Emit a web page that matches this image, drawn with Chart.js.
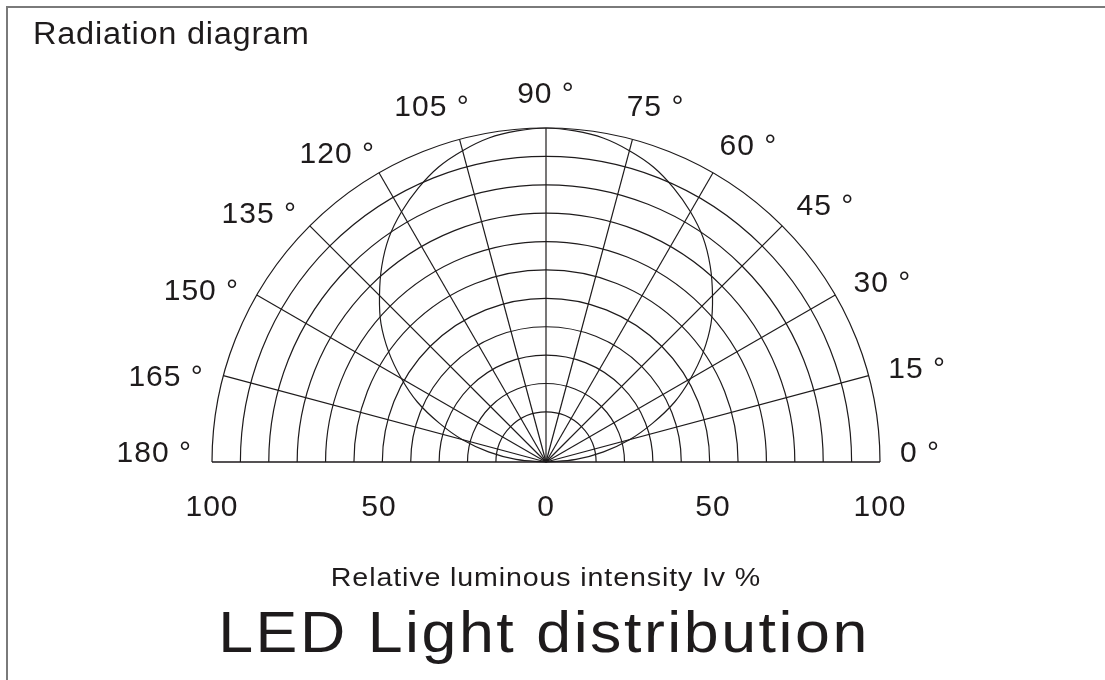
<!DOCTYPE html>
<html>
<head>
<meta charset="utf-8">
<title>Radiation diagram</title>
<script src="https://cdn.jsdelivr.net/npm/chart.js@4.4.1/dist/chart.umd.min.js"></script>
<style>
  html, body { margin: 0; padding: 0; background: #fff; }
  #wrap { position: relative; width: 1105px; height: 680px; }
</style>
</head>
<body>
<div id="wrap"><canvas id="radiation" width="1105" height="680"></canvas></div>
<script>
// polar grid: spokes every 15 deg, rings in % of max intensity
const angleTicks = [0, 15, 30, 45, 60, 75, 90, 105, 120, 135, 150, 165, 180];
const ringValues = [15, 23.5, 32, 40.5, 49, 57.5, 66, 74.5, 83, 91.5, 100];
const axisTicks = [-100, -50, 0, 50, 100];

// relative intensity, every 5 deg
const curveAngles = [0, 5, 10, 15, 20, 25, 30, 35, 40, 45, 50, 55, 60, 65, 70, 75, 80, 85, 90,
  95, 100, 105, 110, 115, 120, 125, 130, 135, 140, 145, 150, 155, 160, 165, 170, 175, 180];
const curveValues = [0, 9, 17.5, 26, 34, 42.5, 50, 57.5, 64.5, 70.5, 76.5, 82, 86.5, 90.5, 94, 96.5, 98.5, 99.5, 100,
  99.5, 98.5, 96.5, 94, 90.5, 86.5, 82, 76.5, 70.5, 64.5, 57.5, 50, 42.5, 34, 26, 17.5, 9, 0];

const titleText = 'Radiation diagram';
const axisText = 'Relative luminous intensity Iv %';
const captionText = 'LED Light distribution';

const FONT = '"Liberation Sans", Arial, Helvetica, sans-serif';
const ink = '#1e1b1c';
const rad = d => d * Math.PI / 180;

// the source lettering is a bit wider than Arial, so stretch it a little
function wideText(ctx, text, x, y, size, stretch, spacing, align) {
  ctx.save();
  ctx.font = size + 'px ' + FONT;
  ctx.letterSpacing = spacing + 'px';
  ctx.textAlign = align;
  ctx.textBaseline = 'alphabetic';
  ctx.translate(x, y);
  ctx.scale(stretch, 1);
  ctx.fillText(text, 0, 0);
  ctx.restore();
}

const polarGrid = {
  id: 'polarGrid',
  beforeDraw(chart) {
    const ctx = chart.ctx;
    ctx.save();
    ctx.strokeStyle = '#7a7a7a';
    ctx.lineWidth = 2;
    ctx.beginPath();
    ctx.moveTo(7, chart.height);
    ctx.lineTo(7, 7);
    ctx.lineTo(chart.width, 7);
    ctx.stroke();
    ctx.restore();
    ctx.letterSpacing = '1px';
  },
  beforeDatasetsDraw(chart) {
    const { ctx, scales: { x, y } } = chart;
    const cx = x.getPixelForValue(0), cy = y.getPixelForValue(0);
    ctx.save();
    ctx.strokeStyle = ink;
    ctx.lineWidth = 1.2;
    ringValues.forEach(v => {
      const r = x.getPixelForValue(v) - cx;
      ctx.beginPath();
      ctx.arc(cx, cy, r, Math.PI, 2 * Math.PI);
      ctx.stroke();
    });
    angleTicks.forEach(a => {
      ctx.beginPath();
      ctx.moveTo(cx, cy);
      ctx.lineTo(x.getPixelForValue(100 * Math.cos(rad(a))), y.getPixelForValue(100 * Math.sin(rad(a))));
      ctx.stroke();
    });
    ctx.beginPath();
    ctx.moveTo(x.getPixelForValue(-100), cy);
    ctx.lineTo(x.getPixelForValue(100), cy);
    ctx.stroke();
    ctx.restore();
  },
  afterDraw(chart) {
    const { ctx, scales: { x, y } } = chart;
    const cx = x.getPixelForValue(0);
    ctx.save();
    ctx.fillStyle = ink;

    // angle labels round the outer ring
    ctx.font = '30px ' + FONT;
    ctx.letterSpacing = '1px';
    ctx.textAlign = 'left';
    angleTicks.forEach(a => {
      const s = Math.sin(rad(a)), c = Math.cos(rad(a));
      const R = 106 + 4 * s * s;
      const px = x.getPixelForValue(R * c), py = y.getPixelForValue(R * s);
      const text = a + ' °';
      const w = ctx.measureText(text).width;
      const f = 0.5 - 0.5 * Math.sign(c) * Math.sqrt(Math.abs(c));
      const onAxis = s < 0.01;
      ctx.textBaseline = onAxis ? 'alphabetic' : 'middle';
      // left-hand labels sit a little lower in the original
      ctx.fillText(text, px - f * w, py + (!onAxis && c < -0.4 ? 8 : 0));
    });

    wideText(ctx, titleText, 33, 44, 31, 1.05, 0.7, 'left');
    wideText(ctx, axisText, cx, 586, 26, 1.1, 0.8, 'center');
    wideText(ctx, captionText, cx - 2, 652, 57, 1.1, 2.3, 'center');
    ctx.restore();
  }
};

const ctx = document.getElementById('radiation').getContext('2d');
const chart = new Chart(ctx, {
  type: 'scatter',
  data: {
    datasets: [{
      label: 'Iv',
      data: curveAngles.map((a, i) => ({
        x: curveValues[i] * Math.cos(rad(a)),
        y: curveValues[i] * Math.sin(rad(a))
      })),
      showLine: true,
      tension: 0.4,
      borderColor: ink,
      borderWidth: 1.2,
      pointRadius: 0,
      fill: false,
      clip: false
    }]
  },
  options: {
    responsive: false,
    animation: false,
    layout: { padding: { left: 212, right: 225, top: 128, bottom: 158 } },
    plugins: { legend: { display: false }, tooltip: { enabled: false }, title: { display: false } },
    scales: {
      x: {
        type: 'linear', min: -100, max: 100,
        afterBuildTicks: s => { s.ticks = axisTicks.map(v => ({ value: v })); },
        afterFit: s => { s.height = 60; },
        grid: { display: false, drawTicks: false },
        border: { display: false },
        ticks: {
          padding: 28, color: ink, maxRotation: 0, autoSkip: false,
          font: { family: FONT, size: 30 },
          callback: v => String(Math.abs(v))
        }
      },
      y: { type: 'linear', min: 0, max: 100, display: false }
    }
  },
  plugins: [polarGrid]
});
</script>
</body>
</html>
